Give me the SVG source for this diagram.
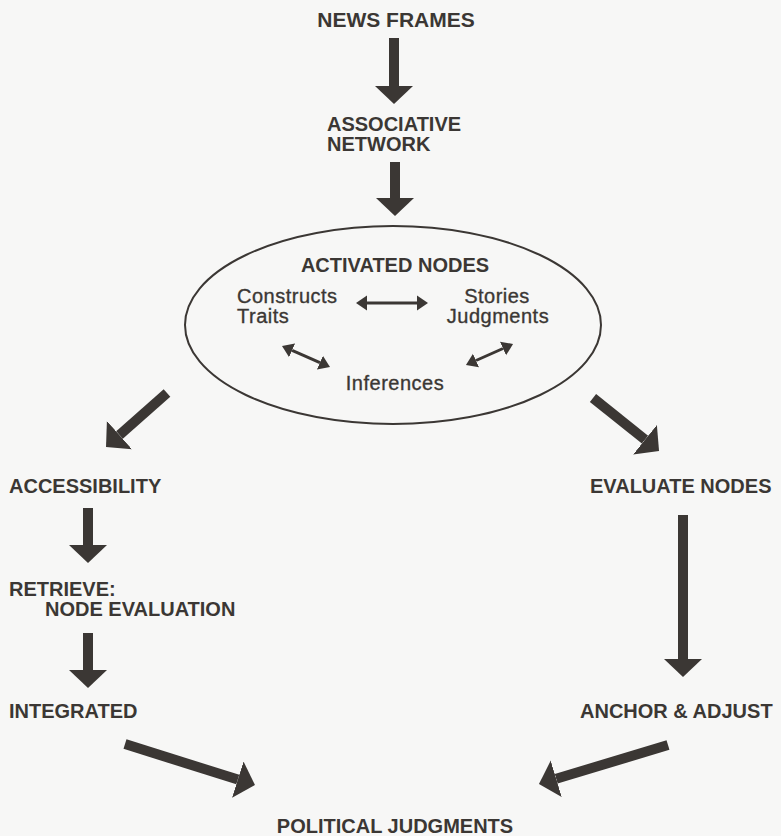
<svg xmlns="http://www.w3.org/2000/svg" width="781" height="836" viewBox="0 0 781 836">
  <style>
    .cap { font-family: "Liberation Sans", Arial, Helvetica, sans-serif; font-weight: bold; font-size: 20px; fill: #3b3734; }
    .inner { font-family: "Liberation Sans", Arial, Helvetica, sans-serif; font-size: 20px; letter-spacing: 0.5px; fill: #3b3734; stroke: #3b3734; stroke-width: 0.35; }
    .thick { stroke: #3b3734; stroke-width: 10; fill: none; marker-end: url(#bigHead); }
    .thin { stroke: #3b3734; stroke-width: 3; fill: none; marker-start: url(#smallHead); marker-end: url(#smallHead); }
  </style>
  <defs>
    <marker id="bigHead" markerUnits="userSpaceOnUse" viewBox="0 -20 19 40" markerWidth="19" markerHeight="40" refX="0" refY="0" orient="auto">
      <path d="M0,-19 L18,0 L0,19 z" fill="#3b3734"/>
    </marker>
    <marker id="smallHead" markerUnits="userSpaceOnUse" viewBox="0 -8 12 16" markerWidth="12" markerHeight="16" refX="0" refY="0" orient="auto-start-reverse">
      <path d="M0,-7.5 L11,0 L0,7.5 z" fill="#3b3734"/>
    </marker>
  </defs>
  <rect x="0" y="0" width="781" height="836" fill="#f7f7f6"/>

  <g id="news-frames"><text class="cap" x="396" y="27" text-anchor="middle" style="font-size:21px">NEWS FRAMES</text></g>
  <g id="associative-network">
    <text class="cap" x="327" y="131">ASSOCIATIVE</text>
    <text class="cap" x="327" y="151">NETWORK</text>
  </g>
  <g id="activated-nodes">
    <ellipse cx="393" cy="325" rx="208" ry="99" fill="none" stroke="#3b3734" stroke-width="2"/>
    <text class="cap" x="395" y="272" text-anchor="middle">ACTIVATED NODES</text>
  </g>
  <g id="constructs-traits">
    <text class="inner" x="237" y="303">Constructs</text>
    <text class="inner" x="237" y="323">Traits</text>
  </g>
  <g id="stories-judgments">
    <text class="inner" x="497" y="303" text-anchor="middle">Stories</text>
    <text class="inner" x="498" y="323" text-anchor="middle">Judgments</text>
  </g>
  <g id="inferences"><text class="inner" x="395" y="390" text-anchor="middle">Inferences</text></g>
  <g id="accessibility"><text class="cap" x="9" y="493">ACCESSIBILITY</text></g>
  <g id="retrieve">
    <text class="cap" x="9" y="596">RETRIEVE:</text>
    <text class="cap" x="45" y="616">NODE EVALUATION</text>
  </g>
  <g id="integrated"><text class="cap" x="9" y="718">INTEGRATED</text></g>
  <g id="evaluate-nodes"><text class="cap" x="590" y="493">EVALUATE NODES</text></g>
  <g id="anchor-adjust"><text class="cap" x="580" y="718">ANCHOR &amp; ADJUST</text></g>
  <g id="political-judgments"><text class="cap" x="395" y="833" text-anchor="middle">POLITICAL JUDGMENTS</text></g>

  <g id="connectors">
    <line class="thick" x1="394" y1="38" x2="394" y2="86"/>
    <line class="thick" x1="395" y1="162" x2="395" y2="198"/>
    <line class="thin" x1="367" y1="303" x2="417" y2="303"/>
    <line class="thin" x1="292.1" y1="350.4" x2="319.9" y2="362.6"/>
    <line class="thin" x1="476" y1="360.5" x2="503" y2="348.5"/>
    <line class="thick" x1="167" y1="393" x2="119.5" y2="435.1"/>
    <line class="thick" x1="593" y1="398" x2="645" y2="439.7"/>
    <line class="thick" x1="88" y1="508" x2="88" y2="545"/>
    <line class="thick" x1="88" y1="633" x2="88" y2="670"/>
    <line class="thick" x1="683" y1="515" x2="683" y2="659"/>
    <line class="thick" x1="125" y1="744" x2="237.8" y2="779.6"/>
    <line class="thick" x1="668" y1="745" x2="556.2" y2="778.8"/>
  </g>
</svg>
